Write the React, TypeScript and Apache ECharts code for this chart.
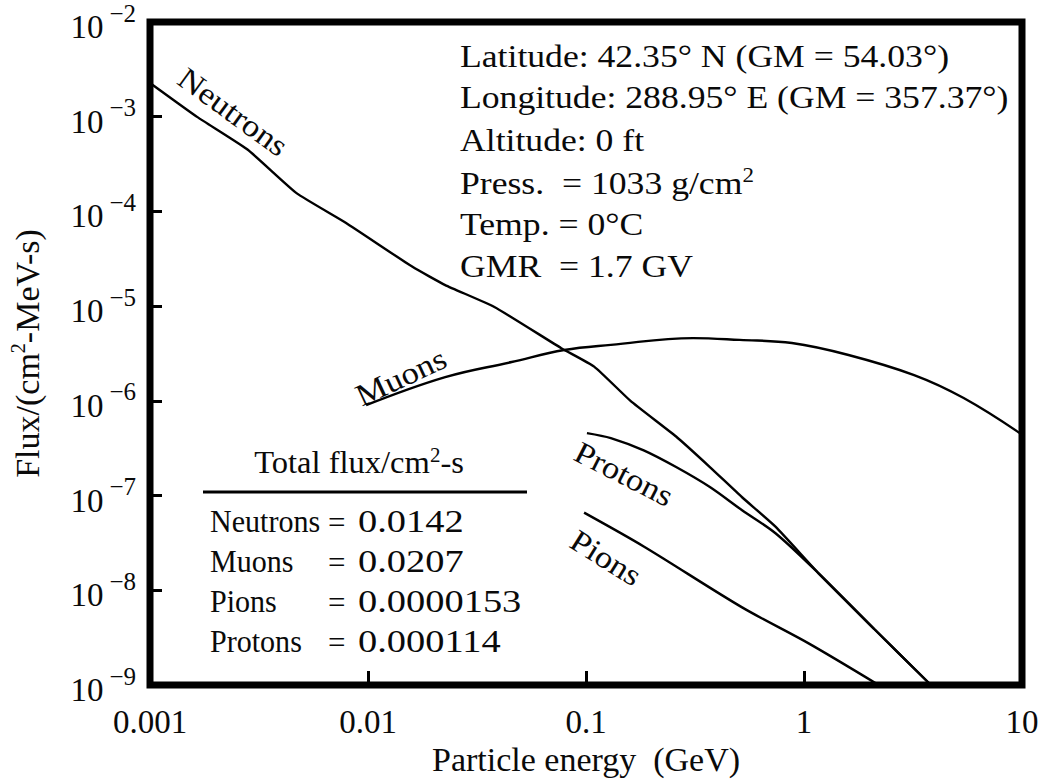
import { useEffect, useRef } from 'react';
import * as echarts from 'echarts';

// Differential flux of sea-level cosmic-ray secondaries (per cm^2 MeV s) vs. energy in GeV
const neutronEnergy = [0.001, 0.00165, 0.0028, 0.0047, 0.0079, 0.016, 0.0226, 0.038, 0.077, 0.109, 0.16, 0.259, 0.37, 0.52, 0.74, 1.17, 2.1, 3.82];
const neutronFlux = [2.27e-3, 9.9e-4, 4.5e-4, 1.56e-4, 7.6e-5, 2.6e-5, 1.67e-5, 9.8e-6, 3.6e-6, 2.3e-6, 1.0e-6, 4.2e-7, 2.0e-7, 9.6e-8, 4.7e-8, 1.5e-8, 3.9e-9, 1e-9];

const muonEnergy = [0.0098, 0.0226, 0.0456, 0.0794, 0.13, 0.31, 0.507, 0.88, 1.6, 3.2, 5.4, 10];
const muonFlux = [9.0e-7, 1.78e-6, 2.57e-6, 3.44e-6, 3.9e-6, 4.6e-6, 4.4e-6, 4.08e-6, 3.05e-6, 1.87e-6, 1.07e-6, 4.4e-7];

const protonEnergy = [0.101, 0.13, 0.184, 0.259, 0.37, 0.52, 0.74, 1.17, 2.1, 3.82];
const protonFlux = [4.57e-7, 4.05e-7, 3.0e-7, 2.0e-7, 1.23e-7, 7.0e-8, 4.0e-8, 1.5e-8, 3.9e-9, 1e-9];

const pionEnergy = [0.098, 0.184, 0.52, 1.05, 2.2];
const pionFlux = [6.6e-8, 2.9e-8, 6.6e-9, 2.75e-9, 1.0e-9];

// Site conditions printed in the upper right
const siteLines = [
  'Latitude: 42.35° N (GM = 54.03°)',
  'Longitude: 288.95° E (GM = 357.37°)',
  'Altitude: 0 ft',
  'Press.  = 1033 g/cm{s|2}',
  'Temp. = 0°C',
  'GMR  = 1.7 GV',
];

// Integrated flux table
const totalNames = ['Neutrons', 'Muons', 'Pions', 'Protons'];
const totalValues = ['0.0142', '0.0207', '0.0000153', '0.000114'];

const FONT = '"Liberation Serif", "Times New Roman", serif';
const INK = '#0a0a0a';

const zip = (xs: number[], ys: number[]) => xs.map((x, i) => [x, ys[i]]);

const superRich = (size: number, supSize: number, lift: number) => ({
  n: { fontSize: size, fontFamily: FONT, color: INK, lineHeight: size + lift, verticalAlign: 'bottom' },
  s: { fontSize: supSize, fontFamily: FONT, color: INK, lineHeight: supSize, verticalAlign: 'top' },
});

// A plain or superscripted text element, stretched horizontally by sx
const txt = (
  text: string,
  x: number,
  y: number,
  opts: { size?: number; sx?: number; align?: string; angle?: number; rich?: boolean } = {}
) => {
  const size = opts.size ?? 31;
  return {
    type: 'text',
    x,
    y,
    scaleX: opts.sx ?? 1,
    rotation: ((opts.angle ?? 0) * Math.PI) / 180,
    style: {
      text,
      rich: opts.rich ? superRich(size, 20, 2) : undefined,
      font: `${size}px ${FONT}`,
      fill: INK,
      align: opts.align ?? 'left',
      verticalAlign: 'middle',
    },
  };
};

export default function App() {
  const ref = useRef<HTMLDivElement>(null);

  useEffect(() => {
    const chart = echarts.init(ref.current!, null, { renderer: 'svg' });

    const lineStyle = { color: '#000', width: 2.4 };
    const mkSeries = (name: string, xs: number[], ys: number[], smooth: number | boolean) => ({
      name,
      type: 'line',
      data: zip(xs, ys),
      showSymbol: false,
      smooth,
      lineStyle,
      silent: true,
    });

    const graphic: any[] = [];

    const siteY = [56, 97, 140, 182, 224, 266];
    siteLines.forEach((t, i) => {
      const rich = t.includes('{s|');
      graphic.push(
        txt(rich ? '{n|' + t.replace('{s|2}', '}{s|2}') : t, 460, siteY[i], { sx: 1.15, rich })
      );
    });

    graphic.push(txt('{n|Total flux/cm}{s|2}{n|-s}', 359, 462, { sx: 1.05, align: 'center', rich: true }));
    graphic.push({
      type: 'line',
      shape: { x1: 203, y1: 492, x2: 527, y2: 492 },
      style: { stroke: '#000', lineWidth: 3 },
    });
    totalNames.forEach((n, i) => {
      const y = 522 + i * 40;
      graphic.push(txt(n, 210, y, { sx: 0.97 }));
      graphic.push(txt('=', 328, y));
      graphic.push(txt(totalValues[i], 358, y, { sx: 1.24 }));
    });

    // Curve names set along their lines
    const curveLabels = [
      { text: 'Neutrons', x: 233, y: 112, angle: -36 },
      { text: 'Muons', x: 401, y: 377, angle: 25 },
      { text: 'Protons', x: 624, y: 474, angle: -27 },
      { text: 'Pions', x: 606, y: 558, angle: -32 },
    ];
    curveLabels.forEach((c) => {
      graphic.push(txt(c.text, c.x, c.y, { size: 31, sx: 1.12, align: 'center', angle: c.angle }));
    });

    chart.setOption({
      animation: false,
      backgroundColor: '#fff',
      grid: {
        left: 142,
        top: 22,
        right: 23,
        bottom: 97,
        show: true,
        borderColor: '#000',
        borderWidth: 7,
        backgroundColor: 'transparent',
      },
      xAxis: {
        type: 'log',
        logBase: 10,
        min: 0.001,
        max: 10,
        interval: 1,
        splitNumber: 4,
        name: 'Particle energy  (GeV)',
        nameLocation: 'middle',
        nameGap: 51,
        nameTextStyle: { fontFamily: FONT, fontSize: 34, color: INK },
        axisLine: { show: false },
        axisTick: { show: true, inside: true, length: 14, lineStyle: { color: '#000', width: 3 } },
        splitLine: { show: false },
        axisLabel: {
          margin: 20,
          fontFamily: FONT,
          fontSize: 33,
          color: INK,
          formatter: (v: number) => String(v),
        },
      },
      yAxis: {
        type: 'log',
        logBase: 10,
        min: 1e-9,
        max: 1e-2,
        interval: 1,
        splitNumber: 7,
        name: '{n|Flux/(cm}{s|2}{n|-MeV-s)}',
        nameLocation: 'middle',
        nameGap: 106,
        nameRotate: 90,
        nameTextStyle: { fontSize: 34, fontFamily: FONT, rich: superRich(34, 20, 2) },
        axisLine: { show: false },
        axisTick: { show: true, inside: true, length: 12, lineStyle: { color: '#000', width: 3 } },
        splitLine: { show: false },
        axisLabel: {
          margin: 14,
          formatter: (v: number) => {
            const e = Math.round(Math.log10(v));
            return `{n|10}{s|\u2212${-e}}`;
          },
          rich: {
            n: { fontSize: 33, fontFamily: FONT, color: INK, lineHeight: 43, verticalAlign: 'bottom' },
            s: { fontSize: 25, fontFamily: FONT, color: INK, lineHeight: 25, verticalAlign: 'top', padding: [0, 0, 0, 6] },
          },
        },
      },
      series: [
        mkSeries('Neutrons', neutronEnergy, neutronFlux, 0.15),
        mkSeries('Muons', muonEnergy, muonFlux, 0.4),
        mkSeries('Protons', protonEnergy, protonFlux, 0.3),
        mkSeries('Pions', pionEnergy, pionFlux, 0.3),
      ],
      graphic,
    });

    return () => chart.dispose();
  }, []);

  return (
    <div
      ref={ref}
      style={{ position: 'fixed', left: 0, top: 0, width: 1045, height: 782, background: '#fff' }}
    />
  );
}
